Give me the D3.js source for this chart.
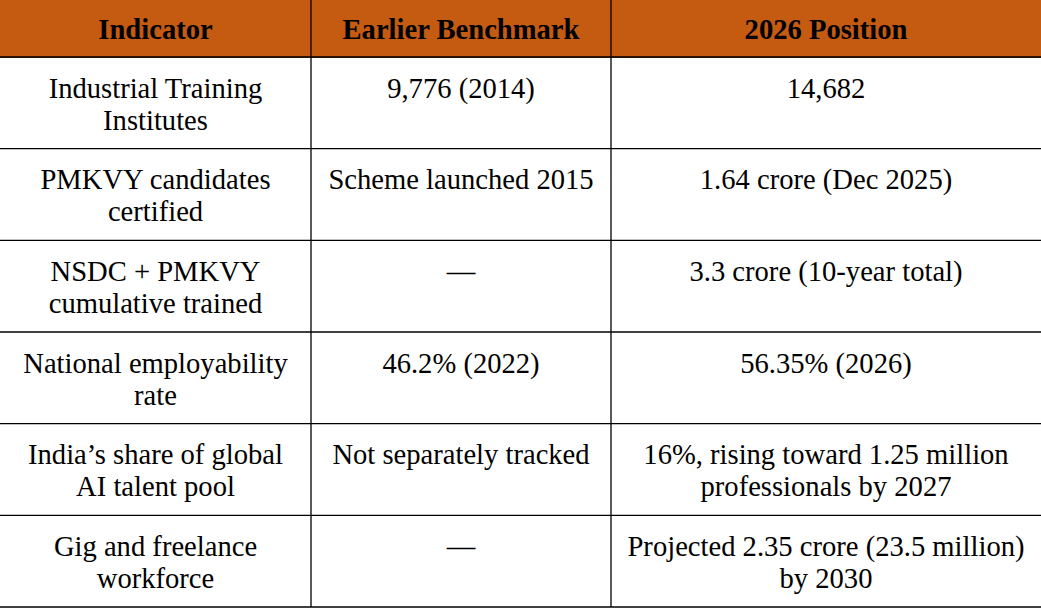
<!DOCTYPE html>
<html>
<head>
<meta charset="utf-8">
<script src="https://cdn.jsdelivr.net/npm/d3@7"></script>
<style>
  html, body { margin: 0; padding: 0; background: #fff; }
  svg { display: block; }
  text { font-family: "Liberation Serif", "Times New Roman", serif; fill: #000; }
</style>
</head>
<body>
<div id="table_container"></div>
<script>
// table content
var headers = ['Indicator', 'Earlier Benchmark', '2026 Position'];
var indicators = [
  ['Industrial Training', 'Institutes'],
  ['PMKVY candidates', 'certified'],
  ['NSDC + PMKVY', 'cumulative trained'],
  ['National employability', 'rate'],
  ['India\u2019s share of global', 'AI talent pool'],
  ['Gig and freelance', 'workforce']
];
var earlier = [
  ['9,776 (2014)'],
  ['Scheme launched 2015'],
  ['\u2014'],
  ['46.2% (2022)'],
  ['Not separately tracked'],
  ['\u2014']
];
var position2026 = [
  ['14,682'],
  ['1.64 crore (Dec 2025)'],
  ['3.3 crore (10-year total)'],
  ['56.35% (2026)'],
  ['16%, rising toward 1.25 million', 'professionals by 2027'],
  ['Projected 2.35 crore (23.5 million)', 'by 2030']
];

var w = 1041;
var h = 609;
var headH = 57;
var tableBottom = 607;
var colEdges = [0, 311, 611, 1041];
var fontSize = 28.6;
var lineGap = 32;
var headerColor = '#C55A11';

var columns = [indicators, earlier, position2026];

var svg = d3.select('#table_container')
            .append('svg')
            .attr('width', w)
            .attr('height', h);

var xScale = d3.scaleOrdinal()
               .domain([0, 1, 2])
               .range([0, 1, 2].map(function(i) { return (colEdges[i] + colEdges[i+1]) / 2; }));

var yScale = d3.scaleBand()
               .domain(d3.range(indicators.length))
               .range([headH, tableBottom]);

// header band
svg.append('rect')
   .attr('x', 0)
   .attr('y', 0)
   .attr('width', w)
   .attr('height', headH)
   .attr('fill', headerColor);

svg.selectAll('.head')
   .data(headers)
   .enter()
   .append('text')
   .attr('class', 'head')
   .attr('x', function(d, i) { return xScale(i); })
   .attr('y', 39)
   .attr('text-anchor', 'middle')
   .attr('font-weight', 'bold')
   .attr('font-size', fontSize)
   .text(function(d) { return d; });

// body cells
for (var c = 0; c < columns.length; c++) {
  var cells = svg.append('g').attr('class', 'col' + c)
                 .selectAll('text')
                 .data(columns[c])
                 .enter()
                 .append('text')
                 .attr('text-anchor', 'middle')
                 .attr('font-size', fontSize)
                 .attr('y', function(d, i) { return yScale(i) + 40.5; });

  (function(cx) {
    cells.selectAll('tspan')
         .data(function(d) { return d; })
         .enter()
         .append('tspan')
         .attr('x', cx)
         .attr('dy', function(d, j) { return j == 0 ? 0 : lineGap; })
         .text(function(d) { return d; });
  })(xScale(c));
}

// row lines
var rowLines = [headH].concat(d3.range(indicators.length).map(function(i) { return yScale(i) + yScale.bandwidth(); }));
svg.selectAll('.hline')
   .data(rowLines)
   .enter()
   .append('line')
   .attr('class', 'hline')
   .attr('x1', 0)
   .attr('x2', w)
   .attr('y1', function(d) { return d; })
   .attr('y2', function(d) { return d; })
   .attr('stroke', function(d, i) { return i == 0 ? '#2a1205' : '#000'; })
   .attr('stroke-width', function(d, i) { return i == 0 ? 2 : 1.3; });

// column lines
svg.selectAll('.vline')
   .data(colEdges.slice(1, 3))
   .enter()
   .append('line')
   .attr('class', 'vline')
   .attr('x1', function(d) { return d; })
   .attr('x2', function(d) { return d; })
   .attr('y1', 0)
   .attr('y2', tableBottom)
   .attr('stroke', '#000')
   .attr('stroke-width', 1.3);
</script>
</body>
</html>
